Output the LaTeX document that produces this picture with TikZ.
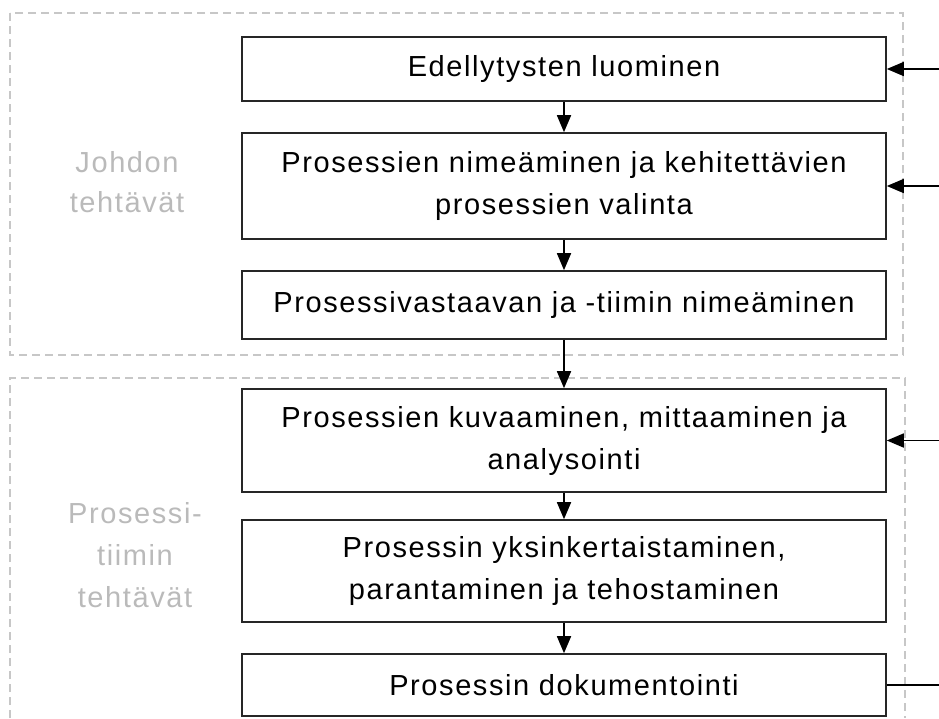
\documentclass[tikz,border=0pt]{standalone}
\usepackage{fontspec}
\setmainfont{Liberation Sans}[LetterSpace=5.5]
\usetikzlibrary{arrows.meta}
\begin{document}
\begin{tikzpicture}[x=1pt,y=-1pt,
  stepbox/.style={draw=black!85, line width=1.6pt, minimum width=644pt,
    inner sep=0pt, align=center, text=black,
    font=\fontsize{29}{42}\selectfont},
  group/.style={draw=black!22, line width=1.3pt, dash pattern=on 8pt off 5pt},
  grouplabel/.style={text=black!27, align=center, inner sep=0pt},
  flow/.style={draw=black, line width=1.7pt, -{Triangle[length=17pt,width=14pt]}},
  feed/.style={draw=black, line width=1.7pt}]
\useasboundingbox (0,0) rectangle (939,718);

% task groups
\draw[group] (10,13) rectangle (903,355);
\draw[group] (10,718) -- (10,378) -- (905,378) -- (905,718);

\node[grouplabel, font=\fontsize{29}{40}\selectfont] (lead) at (127,182) {Johdon\\tehtävät};
\node[grouplabel, font=\fontsize{29}{42}\selectfont] (team) at (135,555) {Prosessi-\\tiimin\\tehtävät};

% process steps
\node[stepbox, minimum height=64pt]  (b1) at (564,69)    {Edellytysten luominen};
\node[stepbox, minimum height=106pt] (b2) at (564,186)   {Prosessien nimeäminen ja kehitettävien\\prosessien valinta};
\node[stepbox, minimum height=68pt]  (b3) at (564,305)   {Prosessivastaavan ja -tiimin nimeäminen};
\node[stepbox, minimum height=103pt] (b4) at (564,440.5) {Prosessien kuvaaminen, mittaaminen ja\\analysointi};
\node[stepbox, minimum height=102pt] (b5) at (564,571)   {Prosessin yksinkertaistaminen,\\parantaminen ja tehostaminen};
\node[stepbox, minimum height=62pt]  (b6) at (564,685)   {Prosessin dokumentointi};

% flow between steps
\draw[flow] (b1) -- (b2);
\draw[flow] (b2) -- (b3);
\draw[flow] (b3) -- (b4);
\draw[flow] (b4) -- (b5);
\draw[flow] (b5) -- (b6);

% inputs and output at the right edge
\coordinate (e1) at (939,69);
\coordinate (e2) at (939,186);
\coordinate (e4) at (939,440.5);
\coordinate (e6) at (939,685);
\draw[flow] (e1) -- (b1.east);
\draw[flow] (e2) -- (b2.east);
\draw[flow] (e4) -- (b4.east);
\draw[feed] (b6.east) -- (e6);
\end{tikzpicture}
\end{document}
